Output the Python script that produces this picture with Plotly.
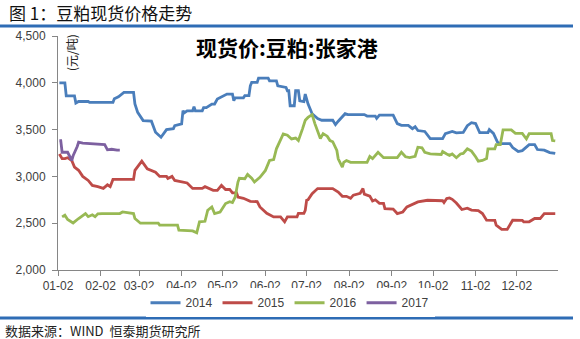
import numpy as np
import pandas as pd
import plotly.graph_objects as go

# Spot soybean meal price, Zhangjiagang (yuan/ton), by day of year
day_2014 = [3, 7, 8, 14, 15, 17, 24, 25, 42, 43, 46, 50, 57, 58, 60, 64, 70, 73, 77, 78,
            81, 86, 87, 92, 93, 94, 96, 100, 101, 102, 107, 108, 110, 114, 116, 118, 125, 129, 130, 131,
            137, 138, 141, 142, 143, 147, 148, 155, 156, 161, 162, 168, 169, 170, 171, 174, 175, 177, 178, 181,
            182, 184, 187, 191, 194, 202, 204, 206, 211, 213, 225, 227, 233, 234, 236, 246, 249, 252, 257, 260,
            262, 264, 269, 273, 282, 284, 289, 292, 297, 300, 303, 306, 309, 315, 316, 319, 322, 324, 331, 333,
            337, 340, 345, 349, 351, 356, 360, 364]
price_2014 = [4000, 4000, 3860, 3860, 3784, 3800, 3800, 3790, 3790, 3830, 3850, 3897, 3897, 3775, 3684, 3596, 3590, 3471, 3418, 3440,
              3500, 3510, 3542, 3560, 3702, 3680, 3700, 3700, 3745, 3700, 3700, 3735, 3735, 3773, 3773, 3826, 3880, 3880, 3808, 3840,
              3840, 3862, 3862, 3968, 4004, 4004, 4050, 4050, 4020, 4020, 3968, 3950, 3915, 3915, 3755, 3755, 3915, 3915, 3808, 3800,
              3880, 3775, 3670, 3617, 3600, 3600, 3553, 3590, 3670, 3660, 3660, 3645, 3645, 3620, 3655, 3655, 3564, 3545, 3545, 3510,
              3530, 3490, 3480, 3404, 3404, 3457, 3480, 3465, 3470, 3542, 3574, 3565, 3468, 3468, 3500, 3460, 3365, 3350, 3350, 3308,
              3266, 3275, 3340, 3340, 3287, 3280, 3255, 3245]

day_2015 = [3, 5, 7, 9, 12, 14, 17, 20, 24, 27, 31, 35, 38, 40, 42, 57, 58, 60, 63, 67,
            73, 76, 81, 82, 85, 87, 93, 96, 100, 107, 109, 115, 118, 121, 124, 127, 129, 132, 133, 137,
            142, 147, 149, 154, 159, 164, 167, 169, 176, 177, 181, 182, 183, 184, 187, 191, 202, 206, 209, 212,
            215, 217, 222, 224, 225, 229, 231, 233, 236, 239, 240, 246, 249, 253, 256, 260, 264, 271, 282, 283,
            285, 287, 289, 292, 296, 300, 303, 308, 311, 314, 320, 321, 325, 329, 333, 340, 341, 345, 349, 353,
            356, 364]
price_2015 = [3240, 3190, 3190, 3200, 3170, 3100, 3065, 3000, 2957, 2904, 2890, 2872, 2910, 2890, 2968, 2968, 3064, 3100, 3163, 3080,
              3045, 3000, 3000, 2978, 3000, 2957, 2939, 2930, 2872, 2872, 2890, 2851, 2851, 2904, 2860, 2860, 2823, 2823, 2780, 2766,
              2734, 2730, 2674, 2606, 2567, 2567, 2514, 2567, 2567, 2606, 2606, 2638, 2745, 2750, 2816, 2870, 2870, 2833, 2787, 2787,
              2766, 2800, 2820, 2870, 2810, 2790, 2737, 2750, 2712, 2712, 2656, 2650, 2603, 2620, 2674, 2700, 2727, 2745, 2740, 2720,
              2763, 2770, 2755, 2715, 2646, 2660, 2640, 2635, 2603, 2532, 2530, 2479, 2433, 2433, 2532, 2530, 2515, 2515, 2550, 2550,
              2603, 2603]

day_2016 = [5, 7, 9, 13, 17, 20, 22, 24, 27, 29, 31, 34, 47, 49, 56, 57, 58, 62, 75, 76,
            89, 90, 100, 103, 105, 109, 111, 114, 116, 120, 124, 127, 129, 131, 133, 134, 138, 140, 143, 145,
            149, 153, 156, 159, 161, 164, 166, 169, 172, 175, 177, 180, 182, 184, 187, 189, 191, 193, 195, 198,
            200, 202, 205, 206, 209, 210, 212, 215, 227, 229, 231, 235, 239, 249, 252, 255, 258, 262, 264, 267,
            269, 273, 281, 282, 285, 287, 289, 292, 295, 297, 300, 303, 306, 308, 311, 314, 315, 320, 321, 324,
            326, 332, 335, 340, 343, 345, 361, 362, 364]
price_2016 = [2567, 2585, 2540, 2503, 2550, 2580, 2603, 2570, 2590, 2570, 2600, 2603, 2603, 2620, 2610, 2603, 2550, 2500, 2500, 2479,
              2479, 2425, 2418, 2397, 2514, 2520, 2638, 2674, 2603, 2620, 2710, 2730, 2720, 2780, 2940, 2980, 2975, 3021, 2980, 2940,
              2990, 3064, 3170, 3180, 3295, 3400, 3453, 3440, 3400, 3410, 3383, 3508, 3600, 3630, 3660, 3564, 3490, 3404, 3457, 3430,
              3383, 3370, 3277, 3188, 3100, 3150, 3170, 3150, 3150, 3213, 3190, 3258, 3200, 3200, 3258, 3210, 3200, 3215, 3312, 3305,
              3258, 3240, 3234, 3266, 3240, 3225, 3240, 3200, 3240, 3245, 3295, 3270, 3210, 3163, 3170, 3190, 3295, 3295, 3340, 3340,
              3497, 3497, 3460, 3460, 3400, 3457, 3457, 3383, 3380]

day_2017 = [3, 4, 5, 9, 12, 13, 16, 17, 20, 36, 38, 41, 45, 47]
price_2017 = [3383, 3383, 3258, 3258, 3170, 3220, 3320, 3365, 3355, 3340, 3284, 3290, 3280, 3280]

month_ticks = ["01-02", "02-02", "03-02", "04-02", "05-02", "06-02",
               "07-02", "08-02", "09-02", "10-02", "11-02", "12-02"]

BASE = pd.Timestamp("2014-01-01")


def to_dates(days):
    return BASE + pd.to_timedelta(np.asarray(days) - 1, unit="D")


series = [
    ("2014", day_2014, price_2014, "#4A7EBB"),
    ("2015", day_2015, price_2015, "#BE4B48"),
    ("2016", day_2016, price_2016, "#98B954"),
    ("2017", day_2017, price_2017, "#7D60A0"),
]

fig = go.Figure()
for name, days, prices, color in series:
    fig.add_trace(go.Scatter(
        x=to_dates(days), y=prices, name=name, mode="lines",
        line=dict(color=color, width=2.8),
    ))

tick_dates = [pd.Timestamp(f"2014-{t}") for t in month_ticks]

axis_font = dict(family="Liberation Sans, Arial, sans-serif", size=12, color="#404040")

fig.update_xaxes(
    range=[pd.Timestamp("2014-01-02"), pd.Timestamp("2015-01-01")],
    tickvals=tick_dates, ticktext=month_ticks,
    showgrid=False, zeroline=False,
    showline=True, linecolor="#868686", linewidth=1,
    ticks="outside", ticklen=5, tickcolor="#868686",
    tickfont=axis_font,
)
fig.update_yaxes(
    range=[2000, 4500], dtick=500, tickformat=",",
    showgrid=False, zeroline=False,
    showline=True, linecolor="#868686", linewidth=1,
    ticks="outside", ticklen=5, tickcolor="#868686",
    tickfont=axis_font, ticklabelstandoff=4,
)

RULE = "#2E6CB5"
fig.update_layout(
    width=580, height=339,
    margin=dict(l=58, r=22, t=36, b=69),
    paper_bgcolor="white", plot_bgcolor="white",
    showlegend=True,
    legend=dict(
        orientation="h", x=0.464, xanchor="center", y=-0.14, yanchor="middle",
        font=dict(family="Liberation Sans, Arial, sans-serif", size=12, color="#404040"),
        itemwidth=30, tracegroupgap=0,
    ),
    shapes=[
        dict(type="line", xref="paper", yref="paper", x0=-0.116, x1=1.03,
             y0=1.0 + 10 / 234, y1=1.0 + 10 / 234, line=dict(color=RULE, width=3)),
        dict(type="line", xref="paper", yref="paper", x0=-0.116, x1=1.03,
             y0=-48 / 234, y1=-48 / 234, line=dict(color=RULE, width=3)),
    ],
    annotations=[
        dict(text="图 1：豆粕现货价格走势", xref="paper", yref="paper",
             x=-0.102, y=1.0 + 23 / 234, xanchor="left", yanchor="middle", showarrow=False,
             font=dict(family="Noto Sans CJK SC", size=17, color="#111111")),
        dict(text="<b>现货价:豆粕:张家港</b>", xref="paper", yref="paper",
             x=(287 - 58) / 500, y=1.0 - 11 / 234, xanchor="center", yanchor="middle", showarrow=False,
             font=dict(family="Noto Sans CJK SC", size=21, color="#000000")),
        dict(text="(元/吨)", xref="paper", yref="paper", textangle=-90,
             x=(72 - 58) / 500, y=1.0 - 17 / 234, xanchor="center", yanchor="middle", showarrow=False,
             font=dict(family="Noto Sans CJK SC", size=12, color="#222222")),
        dict(text="数据来源：WIND  恒泰期货研究所", xref="paper", yref="paper",
             x=-0.11, y=-60 / 234, xanchor="left", yanchor="middle", showarrow=False,
             font=dict(family="Noto Sans CJK SC", size=13, color="#222222")),
    ],
)

fig.write_html("out.html")
